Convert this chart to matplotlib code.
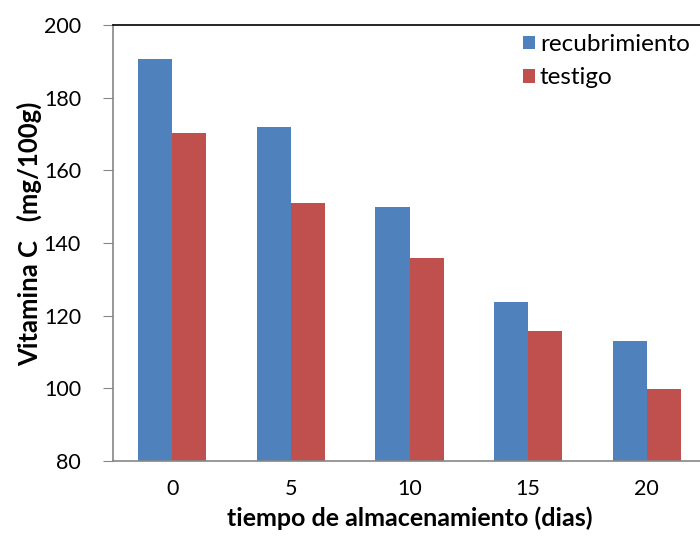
import numpy as np
import matplotlib.pyplot as plt

plt.rcParams['font.family'] = ['Lato', 'DejaVu Sans']

dias = ['0', '5', '10', '15', '20']
recubrimiento = [190.6, 171.8, 149.9, 123.8, 113.0]
testigo = [170.4, 151.0, 135.9, 115.9, 99.8]

fig = plt.figure(figsize=(7, 5.4), dpi=100)
ax = fig.add_axes([0.1614, 0.1463, 0.8472, 0.8074])

x = np.arange(len(dias))
w = 0.287
ax.bar(x - w/2, recubrimiento, w, color='#4F81BD', label='recubrimiento')
ax.bar(x + w/2, testigo, w, color='#C0504D', label='testigo')

ax.set_xlim(-0.5, 4.5)
ax.set_ylim(80, 200)
ax.set_yticks(range(80, 201, 20))
ax.set_xticks(x)
ax.set_xticklabels(dias)
ax.tick_params(axis='y', length=7, color='#868686', labelsize=15.5, pad=16)
ax.tick_params(axis='x', length=0, labelsize=15.5, pad=13)

ax.spines['left'].set_color('#868686')
ax.spines['bottom'].set_color('#868686')
ax.spines['top'].set_color('black')
ax.spines['right'].set_visible(False)
for s in ax.spines.values():
    s.set_linewidth(1.2)

ax.set_ylabel('Vitamina C   (mg/100g)', fontsize=18.5, fontweight='bold')
ax.yaxis.set_label_coords(-0.12, 0.52)
ax.set_xlabel('tiempo de almacenamiento (dias)', fontsize=18, fontweight='bold')
ax.xaxis.set_label_coords(0.5, -0.105)

ax.legend(loc='upper left', bbox_to_anchor=(0.691, 0.979), frameon=False, fontsize=17.5,
          borderpad=0, borderaxespad=0,
          handlelength=0.5, handleheight=0.5, handletextpad=0.2, labelspacing=0.5)

fig.savefig('out.png', dpi=100)
